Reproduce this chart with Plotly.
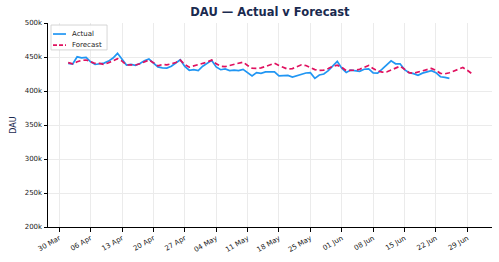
import pandas as pd
import plotly.graph_objects as go

start_date = "2020-04-01"

forecast_k = [441.7, 440.0, 443.0, 445.0, 445.6, 443.0, 440.5, 440.5, 439.0, 441.5,
              444.5, 447.5, 444.0, 438.2, 438.5, 438.3, 440.0, 442.5, 445.5, 441.7,
              437.0, 439.0, 438.5, 440.0, 442.0, 445.5, 439.0, 435.0, 437.0, 438.2,
              440.5, 442.5, 445.6, 440.0, 436.5, 435.8, 437.5, 439.0, 440.5, 442.5,
              437.5, 433.5, 433.3, 434.0, 436.0, 438.5, 440.7, 437.5, 434.8, 432.0,
              433.0, 436.0, 438.5, 437.5, 434.0, 431.5, 430.3, 430.8, 433.0, 436.3,
              438.0, 434.8, 430.0, 429.9, 430.6, 432.0, 435.0, 437.5, 433.0, 429.5,
              427.8, 428.0, 430.8, 434.0, 436.5, 432.0, 427.0, 426.0, 427.5, 429.8,
              431.5, 433.3, 430.3, 426.0, 425.3, 426.8, 429.7, 432.0, 434.5, 430.5,
              425.5]

actual_k = [440.7, 439.7, 450.3, 448.7, 449.5, 443.0, 439.0, 440.3, 441.0, 444.0,
            448.5, 455.4, 446.0, 438.2, 439.0, 437.8, 440.5, 444.5, 447.0, 440.5,
            435.5, 434.0, 433.8, 436.5, 441.5, 446.0, 436.0, 430.5, 431.5, 430.0,
            436.5, 441.0, 445.0, 435.5, 431.3, 432.5, 430.0, 430.8, 430.0, 431.8,
            427.0, 422.3, 427.0, 426.0, 428.0, 428.5, 428.3, 422.1, 422.1, 423.0,
            420.5, 422.2, 425.0, 426.5, 427.0, 418.6, 423.5, 425.0, 429.9, 437.0,
            443.5, 433.5, 427.3, 430.8, 430.0, 429.0, 432.0, 432.5, 426.5, 426.4,
            432.0, 438.2, 444.3, 440.0, 440.0, 431.5, 427.0, 425.5, 423.0, 426.3,
            428.5, 429.9, 427.0, 421.0, 420.0, 418.6]

y_ticks = [200000, 250000, 300000, 350000, 400000, 450000, 500000]
y_tick_labels = ["200k", "250k", "300k", "350k", "400k", "450k", "500k"]
series_names = ["Actual", "Forecast"]

forecast_dates = pd.date_range(start_date, periods=len(forecast_k), freq="D")
actual_dates = pd.date_range(start_date, periods=len(actual_k), freq="D")

BLUE = "#2196f3"
PINK = "#e0115f"
NAVY = "#1a2a4f"
TXT = "#222222"
FONT = "DejaVu Sans"

fig = go.Figure()
fig.add_trace(go.Scatter(
    x=actual_dates, y=[v * 1000 for v in actual_k], mode="lines", name=series_names[0],
    line=dict(color=BLUE, width=1.7)))
fig.add_trace(go.Scatter(
    x=forecast_dates, y=[v * 1000 for v in forecast_k], mode="lines", name=series_names[1],
    line=dict(color=PINK, width=1.7, dash="5px,3px")))

fig.update_layout(
    width=499, height=262,
    margin=dict(l=48, r=7, t=23, b=35),
    paper_bgcolor="white", plot_bgcolor="white",
    font=dict(family=FONT, size=7, color=TXT),
    title=dict(text="<b>DAU — Actual v Forecast</b>", x=0.541, xanchor="center",
               y=0.955, yanchor="middle",
               font=dict(family=FONT, size=11.5, color=NAVY)),
    showlegend=False,
)

# compact legend box (paper coordinates of the plot area)
fig.add_shape(type="rect", xref="paper", yref="paper",
              x0=0.0068, x1=0.133, y0=0.868, y1=0.990,
              line=dict(color="#cccccc", width=0.8), fillcolor="rgba(255,255,255,0.9)",
              layer="above")
legend_rows = [(0.946, BLUE, "solid"), (0.892, PINK, "4px,2px")]
for name, (yy, col, dash) in zip(series_names, legend_rows):
    fig.add_shape(type="line", xref="paper", yref="paper",
                  x0=0.0113, x1=0.0405, y0=yy, y1=yy,
                  line=dict(color=col, width=1.7, dash=dash), layer="above")
    fig.add_annotation(xref="paper", yref="paper", x=0.0495, y=yy, text=name,
                       showarrow=False, xanchor="left", yanchor="middle",
                       font=dict(family=FONT, size=7, color=TXT))

fig.update_xaxes(
    type="date",
    range=["2020-03-27 12:00", "2020-07-04 12:00"],
    tick0="2020-03-30", dtick=7 * 24 * 3600 * 1000,
    tickformat="%d %b", tickangle=-30,
    showgrid=True, gridcolor="#ebebeb", gridwidth=0.8,
    showline=True, linecolor="black", linewidth=1,
    ticks="outside", ticklen=3.5, tickcolor="black", tickwidth=0.8,
    tickfont=dict(family=FONT, size=7, color=TXT),
    zeroline=False,
)
fig.update_yaxes(
    range=[200000, 500000],
    tickvals=y_ticks, ticktext=y_tick_labels,
    title=dict(text="DAU", font=dict(family=FONT, size=8, color=NAVY), standoff=6),
    showgrid=True, gridcolor="#ebebeb", gridwidth=0.8,
    showline=True, linecolor="black", linewidth=1,
    ticks="outside", ticklen=3.5, tickcolor="black", tickwidth=0.8,
    tickfont=dict(family=FONT, size=7, color=TXT),
    zeroline=False,
)

fig.write_html("out.html")
